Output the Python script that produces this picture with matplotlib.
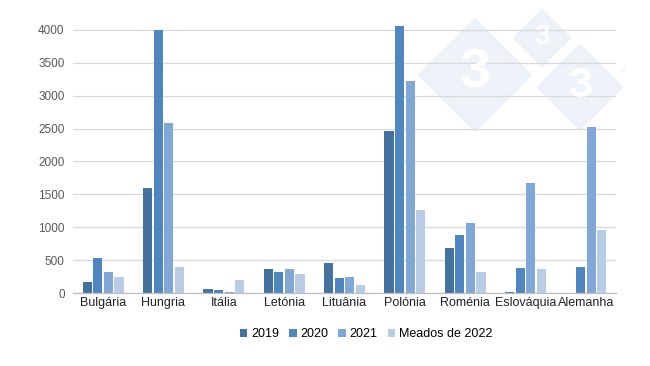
import matplotlib
matplotlib.use("Agg")
import matplotlib.pyplot as plt
import numpy as np
from matplotlib.patches import Polygon

plt.rcParams['font.family'] = ['Liberation Sans', 'DejaVu Sans']

categories = ["Bulgária", "Hungria", "Itália", "Letónia", "Lituânia",
              "Polónia", "Roménia", "Eslováquia", "Alemanha"]
series_names = ["2019", "2020", "2021", "Meados de 2022"]
v2019 = [167, 1596, 55, 369, 460, 2466, 684, 20, 0]
v2020 = [532, 4005, 46, 319, 222, 4062, 886, 380, 400]
v2021 = [319, 2588, 20, 369, 248, 3226, 1058, 1666, 2527]
v2022 = [237, 389, 202, 293, 126, 1261, 319, 369, 957]
yticks = [0, 500, 1000, 1500, 2000, 2500, 3000, 3500, 4000]

colors = ["#44729f", "#4f86c0", "#80a7d5", "#b9cce5"]

W, H = 650, 366
fig = plt.figure(figsize=(6.5, 3.66), dpi=100)
ax = fig.add_axes([73 / W, 1 - 293 / H, (616 - 73) / W, (293 - 20) / H])

# watermark (logo-like diamonds)
def diamond(cx, cy, r):
    pts = [(cx / W, 1 - (cy - r) / H), ((cx + r) / W, 1 - cy / H),
           (cx / W, 1 - (cy + r) / H), ((cx - r) / W, 1 - cy / H)]
    return Polygon(pts, closed=True, transform=fig.transFigure,
                   facecolor="#ecf1f8", edgecolor="#ecf1f8", linewidth=3,
                   joinstyle="round", alpha=0.85, zorder=0.5, clip_on=False)

for (cx, cy, r, fs) in [(475, 75, 55, 40), (542, 38, 27, 20), (580, 87, 41, 31)]:
    ax.add_patch(diamond(cx, cy, r))
    ax.text(cx / W, 1 - (cy - 1) / H, "3", transform=fig.transFigure, fontsize=fs,
            color="white", ha="center", va="center", fontweight="bold",
            zorder=0.6, clip_on=False)
fig.text(623 / W, 1 - 72 / H, "®", fontsize=6, color="#e6ecf5", ha="center", va="center")

x = np.arange(len(categories))
slot = 0.175
bw = 0.15
data = [v2019, v2020, v2021, v2022]
for i, (vals, c, name) in enumerate(zip(data, colors, series_names)):
    ax.bar(x + (i - 1.5) * slot, vals, width=bw, color=c, label=name, zorder=2)

ax.set_xlim(-0.5, len(categories) - 0.5)
ax.set_ylim(0, 4150)
ax.set_yticks(yticks)
ax.set_yticklabels([str(t) for t in yticks], fontsize=8.5, color="#595959")
ax.set_xticks(x)
ax.set_xticklabels(categories, fontsize=9, color="#222222")
ax.tick_params(axis="both", length=0)
ax.tick_params(axis="y", pad=6)
ax.tick_params(axis="x", pad=3)
ax.grid(axis="y", color="#d9d9d9", linewidth=0.9, zorder=0)
ax.set_axisbelow(True)
for s in ["top", "right", "left"]:
    ax.spines[s].set_visible(False)
ax.spines["bottom"].set_color("#bfbfbf")
ax.spines["bottom"].set_linewidth(0.9)
ax.patch.set_alpha(0)

handles, labels = ax.get_legend_handles_labels()
fig.legend(handles, labels, loc="center", bbox_to_anchor=(366 / W, 1 - 334 / H),
           ncol=4, frameon=False, fontsize=9, handlelength=0.6, handleheight=0.6,
           handletextpad=0.3, columnspacing=0.8)

fig.savefig("out.png", dpi=100)
